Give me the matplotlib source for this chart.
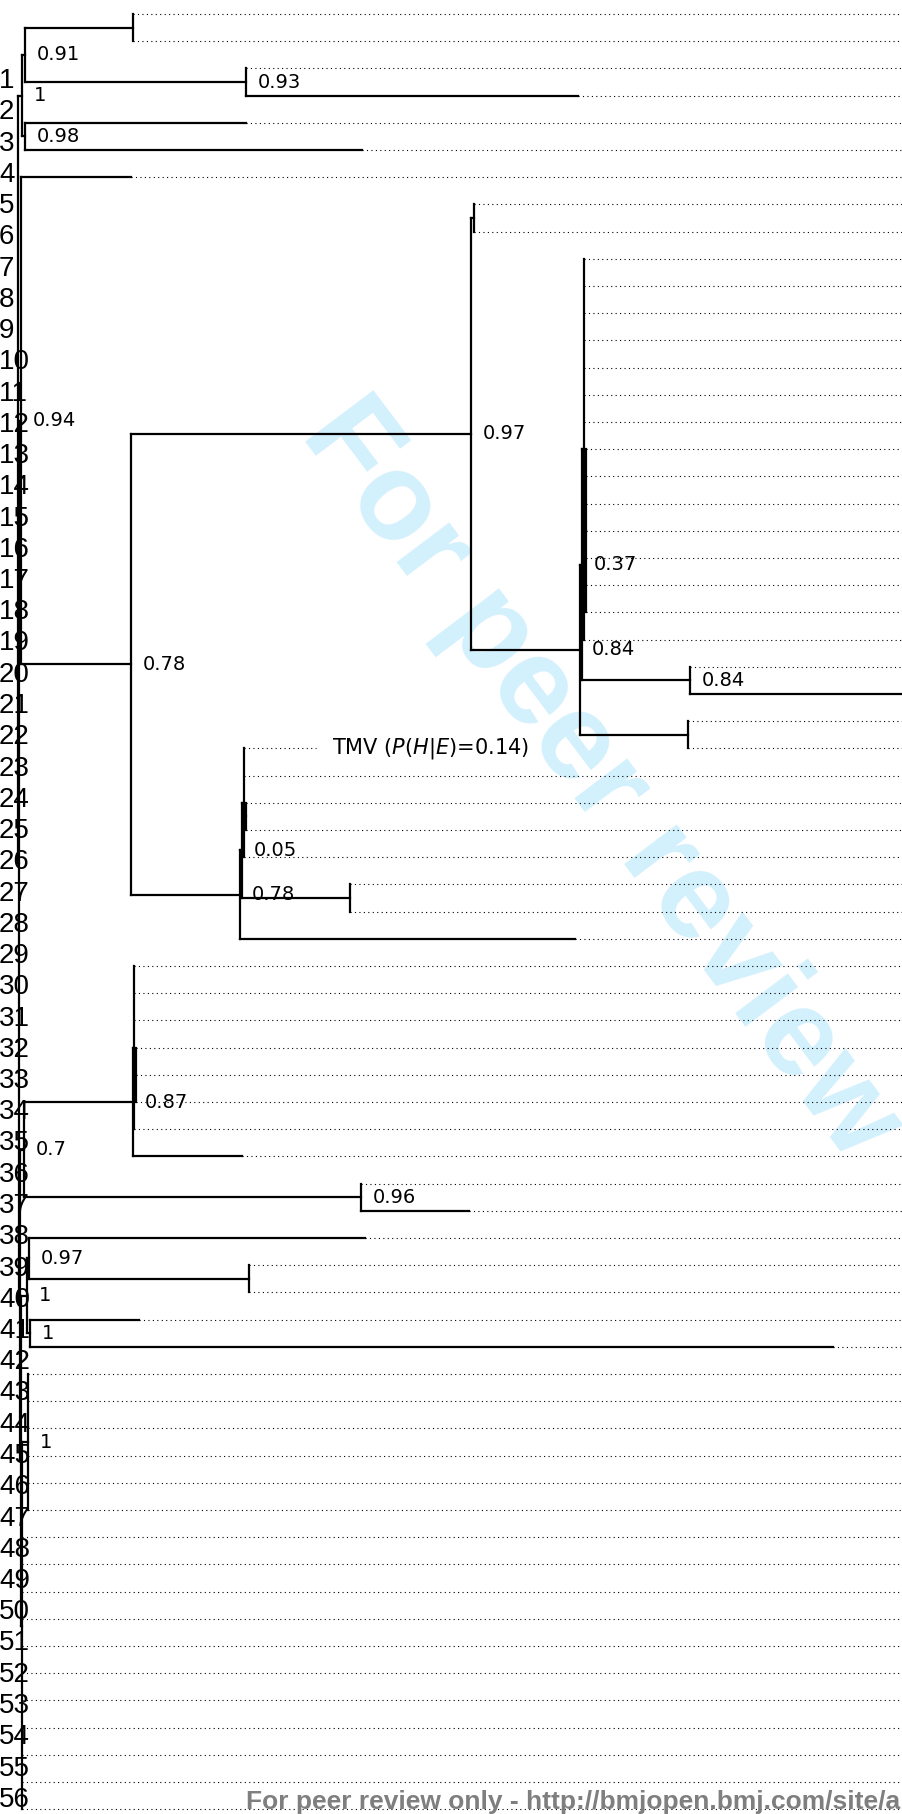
import matplotlib
matplotlib.use("Agg")
import matplotlib.pyplot as plt
from matplotlib.collections import LineCollection

# Figure size in pixels (page crop)
W_PX, H_PX = 903, 1814
ROW0_PX, ROW_PX = 14, 27.2      # first tip row and spacing of tip rows

# Tip depth for each row 0..66 (x where the solid branch ends, dotted line after it)
tip_depth = [133, 133, 246, 578, 246, 362, 131, 474, 474,
             584, 584, 584, 584, 584, 584, 584,
             586, 586, 586, 586, 586, 586, 586, 584,
             690, 960, 688, 688,
             244, 246, 246, 244, 350, 350, 575,
             134, 134, 134, 136, 136, 136, 134,
             242, 361, 469, 365, 249, 249, 139, 833,
             28, 28, 28, 28, 28, 28,
             22, 22, 22, 22, 22, 22, 22, 22, 22, 22, 22]

# extra labelled tip sharing row 27
tmv_row = 27
tmv_depth = 244
tmv_label = r"TMV ($\mathit{P(H|E)}$=0.14)"

# internal nodes: name, depth, children, posterior support
nodes = [
    ("H1", 133, ["r0", "r1"], ""),
    ("H2", 246, ["r2", "r3"], "0.93"),
    ("A", 25, ["H1", "H2"], "0.91"),
    ("C", 25, ["r4", "r5"], "0.98"),
    ("B", 22, ["A", "C"], "1"),
    ("H", 474, ["r7", "r8"], ""),
    ("Q2", 586, ["r16", "r17", "r18", "r19", "r20", "r21", "r22"], ""),
    ("Q", 584, ["r9", "r10", "r11", "r12", "r13", "r14", "r15", "Q2", "r23"], ""),
    ("L", 690, ["r24", "r25"], "0.84"),
    ("N", 582, ["Q", "L"], "0.37"),
    ("K", 688, ["r26", "r27"], ""),
    ("P", 580, ["N", "K"], "0.84"),
    ("G", 471, ["H", "P"], "0.97"),
    ("Tc2", 246, ["r29", "r30"], ""),
    ("Tc", 244, ["tmv", "r28", "Tc2", "r31"], ""),
    ("C78", 350, ["r32", "r33"], ""),
    ("T", 242, ["Tc", "C78"], "0.05"),
    ("F2", 240, ["T", "r34"], "0.78"),
    ("F", 131, ["G", "F2"], "0.78"),
    ("E", 21, ["r6", "F"], "0.94"),
    ("Y2", 136, ["r38", "r39", "r40"], ""),
    ("Y", 134, ["r35", "r36", "r37", "Y2", "r41"], ""),
    ("X", 133, ["Y", "r42"], "0.87"),
    ("N96", 361, ["r43", "r44"], "0.96"),
    ("Z", 24, ["X", "N96"], "0.7"),
    ("V", 249, ["r46", "r47"], ""),
    ("W", 29, ["r45", "V"], "0.97"),
    ("S", 30, ["r48", "r49"], "1"),
    ("U", 27, ["W", "S"], "1"),
    ("R", 28, ["r50", "r51", "r52", "r53", "r54", "r55"], "1"),
    ("n4", 22, ["R", "r56", "r57", "r58", "r59", "r60", "r61", "r62",
                "r63", "r64", "r65", "r66"], ""),
    ("n3", 21, ["U", "n4"], ""),
    ("n2", 20, ["Z", "n3"], ""),
    ("n1", 19, ["E", "n2"], ""),
    ("root", 18, ["B", "n1"], ""),
]

margin_numbers = list(range(1, 58))
footer = "For peer review only - http://bmjopen.bmj.com/site/about/guidelines.xhtml"
watermark = "For peer review"

node_depth = {n[0]: n[1] for n in nodes}
node_kids = {n[0]: n[2] for n in nodes}


def y_of(name):
    if name == "tmv":
        return tmv_row
    if name.startswith("r") and name[1:].isdigit():
        return int(name[1:])
    kids = node_kids[name]
    return (y_of(kids[0]) + y_of(kids[-1])) / 2.0


def x_of(name):
    if name == "tmv":
        return tmv_depth
    if name.startswith("r") and name[1:].isdigit():
        return tip_depth[int(name[1:])]
    return node_depth[name]


fig = plt.figure(figsize=(W_PX / 100, H_PX / 100), dpi=100)

# faint watermark behind everything
fig.text(300 / W_PX, 1 - 434 / H_PX, watermark, rotation=-53, rotation_mode="anchor",
         ha="left", va="baseline", fontsize=89, fontweight="bold",
         family="Liberation Sans", color="#d3f0fd", zorder=-1)

ax = fig.add_axes([0, 0, 1, 1])
ax.patch.set_visible(False)
ax.set_xlim(0, W_PX)
ax.set_ylim((H_PX - ROW0_PX) / ROW_PX, -ROW0_PX / ROW_PX)
ax.axis("off")

segs = []
for name, depth, kids, sup in nodes:
    ys = [y_of(k) for k in kids]
    segs.append([(depth, ys[0]), (depth, ys[-1])])
    for k, yk in zip(kids, ys):
        segs.append([(depth, yk), (x_of(k), yk)])
    if sup:
        ax.text(depth + 12, y_of(name), sup, ha="left", va="center",
                fontsize=14, family="DejaVu Sans", color="black")
ax.add_collection(LineCollection(segs, colors="black", linewidths=1.6,
                                 capstyle="projecting"))

# dotted extensions of the tips
rows = list(range(len(tip_depth)))
ax.hlines(rows, tip_depth, W_PX + 5, colors="black", linewidths=0.8,
          linestyles=(0, (1, 3)))
ax.hlines([tmv_row], [tmv_depth], [tmv_depth + 72], colors="black",
          linewidths=0.8, linestyles=(0, (1, 3)))
ax.text(tmv_depth + 88, tmv_row, tmv_label, ha="left", va="center",
        fontsize=15, family="DejaVu Sans")

# page line numbers in the margin
ax2 = fig.add_axes([0, 0, 1, 1])
ax2.patch.set_visible(False)
ax2.set_xlim(0, W_PX)
ax2.set_ylim(1 + (H_PX - 81) / 31.25, 1 - 81 / 31.25)
ax2.axis("off")
for n in margin_numbers:
    ax2.text(-1, n, str(n), ha="left", va="center", fontsize=20,
             family="Liberation Sans", color="black")

fig.text(246 / W_PX, 1 - 1809 / H_PX, footer, ha="left", va="baseline",
         fontsize=19, fontweight="bold", family="Liberation Sans",
         color="#7f7f7f", zorder=5)

fig.savefig("out.png", dpi=100)
